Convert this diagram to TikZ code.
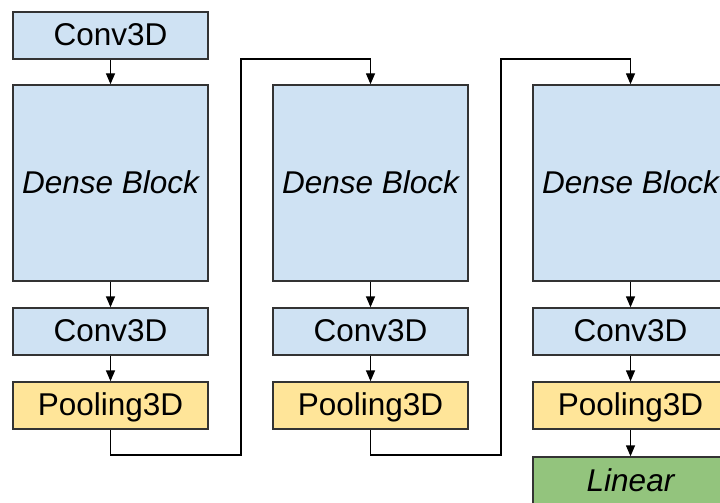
\documentclass[tikz,border=0pt]{standalone}
\usepackage{fontspec}
\setmainfont{Liberation Sans}
\usetikzlibrary{arrows.meta}
\definecolor{boxblue}{HTML}{CFE2F3}
\definecolor{boxyellow}{HTML}{FFE599}
\definecolor{boxgreen}{HTML}{93C47D}
\definecolor{edge}{HTML}{333333}
\tikzset{
  x=1pt, y=-1pt,
  block/.style={draw=edge, line width=1.4pt, minimum width=195pt, inner sep=0pt,
    text height=22.6pt, text depth=2.5pt,
    font=\fontsize{31.5}{36}\selectfont, text=black},
  conv/.style={block, fill=boxblue, minimum height=47pt},
  dense/.style={block, fill=boxblue, minimum height=196pt, font=\fontsize{31.5}{36}\selectfont\itshape},
  pool/.style={block, fill=boxyellow, minimum height=47pt},
  lin/.style={block, fill=boxgreen, minimum height=48pt, font=\fontsize{31.5}{36}\selectfont\itshape},
  link/.style={draw=black, line width=1.4pt, -{Triangle[length=11pt,width=9pt]}},
}
\begin{document}
\begin{tikzpicture}
\useasboundingbox (0,0) rectangle (720,503);
\clip (0,0) rectangle (720,503);
\fill[white] (0,0) rectangle (720,503);

% first column
\node[conv]  (c0) at (110.5,35.5) {Conv3D};
\node[dense] (d1) at (110.5,183)  {Dense Block};
\node[conv]  (c1) at (110.5,331.5){Conv3D};
\node[pool]  (p1) at (110.5,405.5){Pooling3D};

% second column
\node[dense] (d2) at (370.5,183)  {Dense Block};
\node[conv]  (c2) at (370.5,331.5){Conv3D};
\node[pool]  (p2) at (370.5,405.5){Pooling3D};

% third column
\node[dense] (d3) at (630.5,183)  {Dense Block};
\node[conv]  (c3) at (630.5,331.5){Conv3D};
\node[pool]  (p3) at (630.5,405.5){Pooling3D};
\node[lin]   (l3) at (630.5,481)  {Linear};

% routing corners between columns
\coordinate (r1a) at (241,455);
\coordinate (r1b) at (241,59);
\coordinate (r2a) at (501,455);
\coordinate (r2b) at (501,59);

% straight links inside each column
\draw[link] (c0) -- (d1);
\draw[link] (d1) -- (c1);
\draw[link] (c1) -- (p1);
\draw[link] (d2) -- (c2);
\draw[link] (c2) -- (p2);
\draw[link] (d3) -- (c3);
\draw[link] (c3) -- (p3);
\draw[link] (p3) -- (l3);

% links from one column to the next
\draw[link] (p1.south) |- (r1a) -- (r1b) -| (d2.north);
\draw[link] (p2.south) |- (r2a) -- (r2b) -| (d3.north);
\end{tikzpicture}
\end{document}
